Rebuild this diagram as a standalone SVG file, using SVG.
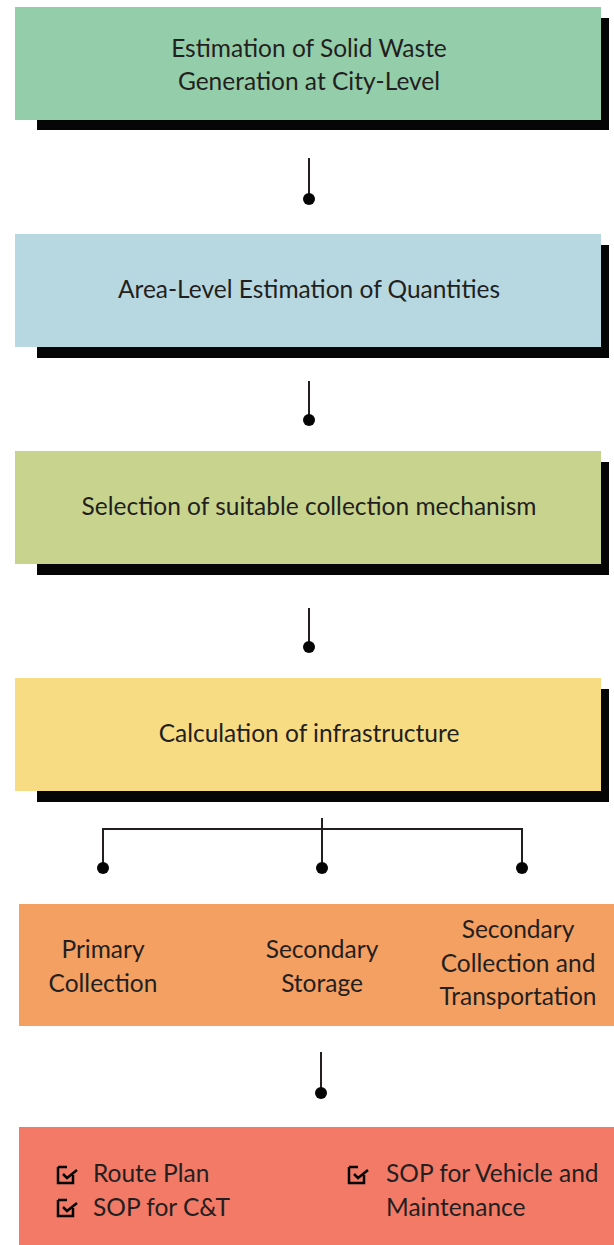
<svg xmlns="http://www.w3.org/2000/svg" width="614" height="1245" viewBox="0 0 614 1245">
<style>
.t{font-family:Lato,"Open Sans","Liberation Sans",sans-serif;font-size:24.5px;fill:#231f20;text-anchor:middle}
.l{text-anchor:start}
.sh{fill:#050505}
.ln{stroke:#231f20;stroke-width:2;fill:none}
.dot{fill:#050505}
.cb{stroke:#050505;stroke-width:2.5;fill:none}
</style>
<defs>
<g id="chk"><path class="cb" d="M0,0 H9 M0,0 V16 H15 V8"/><path class="cb" d="M5,7 L9,11 L19,3"/></g>
</defs>
<rect width="614" height="1245" fill="#fff"/>
<g id="n1">
<rect class="sh" x="37" y="18" width="572" height="112"/>
<rect x="15" y="7" width="586" height="113" fill="#94cdaa"/>
<text class="t" x="309" y="57">Estimation of Solid Waste</text>
<text class="t" x="309" y="90">Generation at City-Level</text>
</g>
<g id="n2">
<rect class="sh" x="37" y="245" width="572" height="113"/>
<rect x="15" y="234" width="586" height="113" fill="#b7d8e0"/>
<text class="t" x="309" y="298">Area-Level Estimation of Quantities</text>
</g>
<g id="n3">
<rect class="sh" x="37" y="462" width="572" height="113"/>
<rect x="15" y="451" width="586" height="113" fill="#c8d48e"/>
<text class="t" x="309" y="515">Selection of suitable collection mechanism</text>
</g>
<g id="n4">
<rect class="sh" x="37" y="689" width="572" height="113"/>
<rect x="15" y="678" width="586" height="113" fill="#f7dc84"/>
<text class="t" x="309" y="742">Calculation of infrastructure</text>
</g>
<g id="n5">
<rect x="19" y="904" width="595" height="122" fill="#f4a062"/>
<text class="t" x="103" y="958">Primary</text>
<text class="t" x="103" y="992">Collection</text>
<text class="t" x="322" y="958">Secondary</text>
<text class="t" x="322" y="992">Storage</text>
<text class="t" x="518" y="938">Secondary</text>
<text class="t" x="518" y="972">Collection and</text>
<text class="t" x="518" y="1005">Transportation</text>
</g>
<g id="n6">
<rect x="19" y="1127" width="595" height="118" fill="#f27a67"/>
<use href="#chk" x="58" y="1167"/>
<use href="#chk" x="58" y="1200"/>
<use href="#chk" x="349" y="1167"/>
<text class="t l" x="93" y="1182">Route Plan</text>
<text class="t l" x="93" y="1216">SOP for C&amp;T</text>
<text class="t l" x="386" y="1182">SOP for Vehicle and</text>
<text class="t l" x="386" y="1216">Maintenance</text>
</g>
<g id="connectors">
<path class="ln" d="M309,158 V199"/><circle class="dot" cx="309" cy="199" r="6"/>
<path class="ln" d="M309,381 V420"/><circle class="dot" cx="309" cy="420" r="6"/>
<path class="ln" d="M309,608 V647"/><circle class="dot" cx="309" cy="647" r="6"/>
<path class="ln" d="M322,818 V868 M103,868 V829 H522 V868"/>
<circle class="dot" cx="103" cy="868" r="6"/><circle class="dot" cx="322" cy="868" r="6"/><circle class="dot" cx="522" cy="868" r="6"/>
<path class="ln" d="M321,1052 V1093"/><circle class="dot" cx="321" cy="1093" r="6"/>
</g>
</svg>
